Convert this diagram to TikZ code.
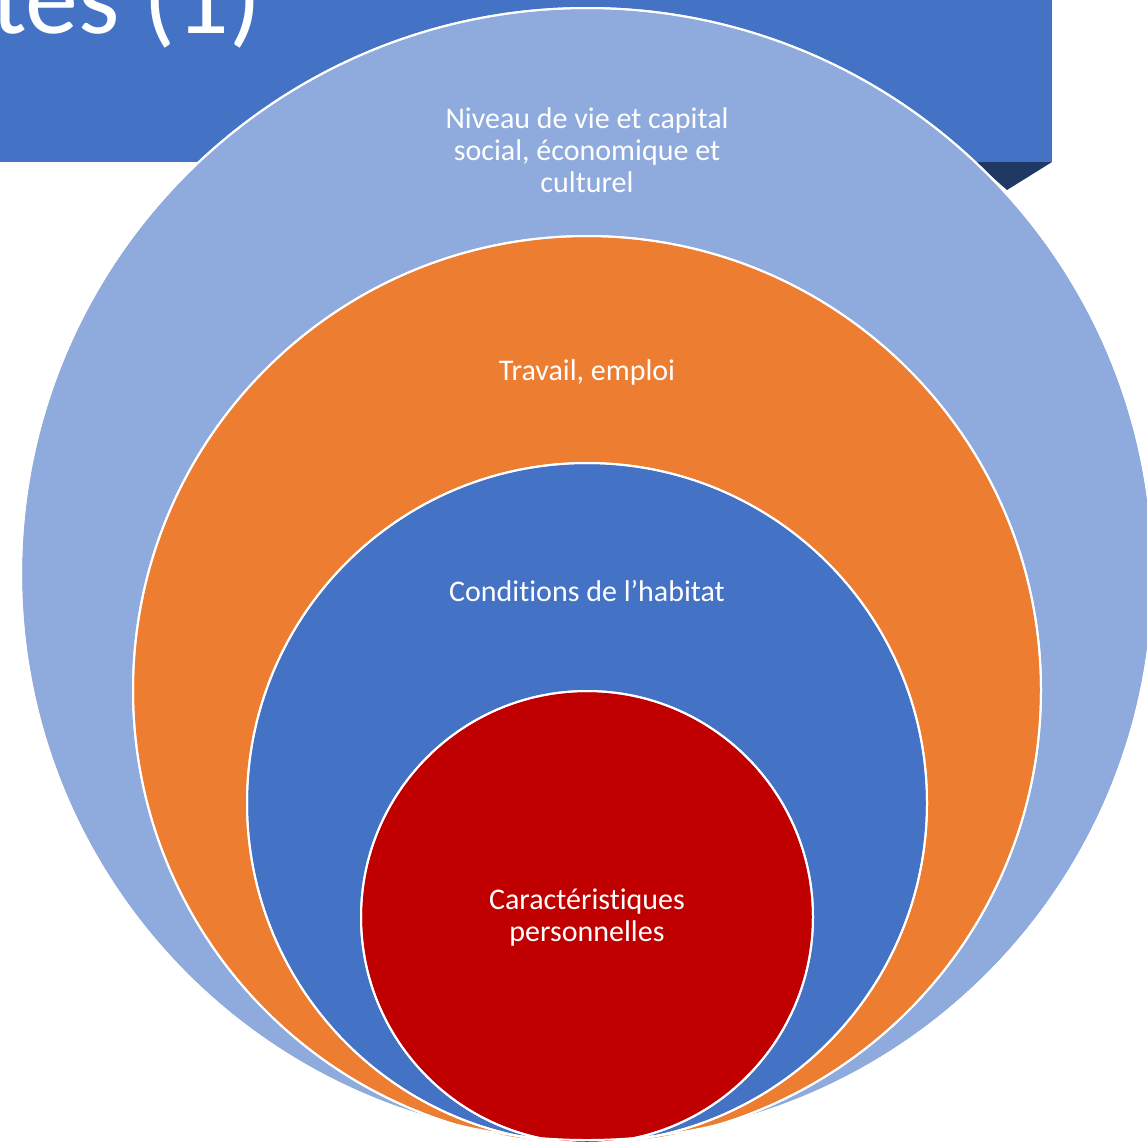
\documentclass[tikz,border=0pt]{standalone}
\usepackage{fontspec}
\setmainfont[Ligatures={NoCommon}]{Carlito}
\definecolor{ringouter}{HTML}{8FAADC}
\definecolor{ringwork}{HTML}{ED7D31}
\definecolor{ringhome}{HTML}{4472C4}
\definecolor{ringcore}{HTML}{C00000}
\definecolor{banner}{HTML}{4472C4}
\definecolor{bannershade}{HTML}{1F3864}
\begin{document}
\begin{tikzpicture}[x=1pt,y=-1pt,
  ring/.style={draw=white,line width=2pt},
  lab/.style={text=white,align=center,font=\fontsize{30}{32}\selectfont}]
\useasboundingbox (0,0) rectangle (1147,1146);
\clip (0,0) rectangle (1147,1146);
% title banner
\fill[banner] (0,-10) rectangle (1052,162);
\fill[bannershade] (975,162) -- (1052,162) -- (1007,190) -- cycle;
\node[anchor=base east,text=white,inner sep=0pt,font=\fontsize{106}{120}\selectfont] (title) at (262,33) {tes (1)};
% nested circles
\fill[ring,fill=ringouter] (587,574) circle[radius=566];
\fill[ring,fill=ringwork] (587,690) circle[radius=454];
\fill[ring,fill=ringhome] (587,803) circle[radius=340];
\fill[ring,fill=ringcore] (587,917) circle[radius=226];
\draw[ring] (587,574) circle[radius=566];
\draw[ring] (587,690) circle[radius=454];
\draw[ring] (587,803) circle[radius=340];
\draw[ring] (587,917) circle[radius=226];
% labels
\node[lab] (outer) at (587,150) {Niveau de vie et capital\\social, économique et\\culturel};
\node[lab] (work) at (587,372) {Travail, emploi};
\node[lab] (home) at (587,591) {Conditions de l’habitat};
\node[lab] (core) at (587,918) {Caractéristiques\\personnelles};
\end{tikzpicture}
\end{document}
